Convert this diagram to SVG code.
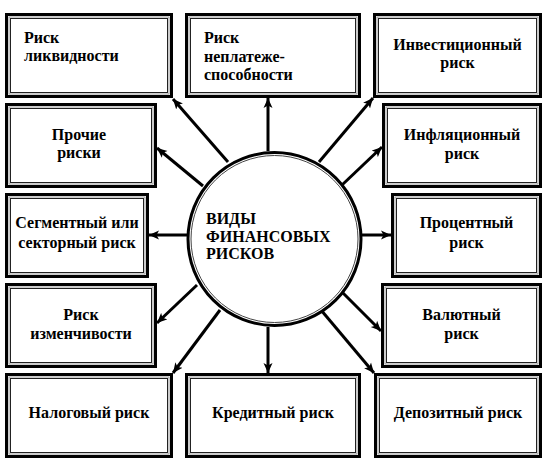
<svg xmlns="http://www.w3.org/2000/svg" width="558" height="470" viewBox="0 0 558 470">
<defs>
<style>
.ob{fill:#fff;stroke:#000;stroke-width:3}
.gb{fill:none;stroke:#999;stroke-width:1}
.ib{fill:none;stroke:#222;stroke-width:1}
.ln{stroke:#000;stroke-width:3;fill:none;marker-end:url(#ah)}
</style>
<marker id="ah" viewBox="0 0 10 10" refX="10" refY="5" markerWidth="10" markerHeight="10" markerUnits="userSpaceOnUse" orient="auto">
<path d="M0,0.5 L10,5 L0,9.5 L2.5,5 z" fill="#000"/>
</marker>
</defs>
<rect width="558" height="470" fill="#fff"/>

<g id="connectors">
<line class="ln" x1="228" y1="162" x2="173" y2="99"/>
<line class="ln" x1="203" y1="186" x2="157" y2="148"/>
<line class="ln" x1="187" y1="235" x2="149" y2="235"/>
<line class="ln" x1="197" y1="285" x2="157" y2="323"/>
<line class="ln" x1="220" y1="310" x2="173" y2="373"/>
<line class="ln" x1="268" y1="327" x2="268" y2="373"/>
<line class="ln" x1="321" y1="310" x2="374" y2="373"/>
<line class="ln" x1="342" y1="292" x2="381" y2="331"/>
<line class="ln" x1="362" y1="235" x2="391" y2="235"/>
<line class="ln" x1="342" y1="185" x2="382" y2="147"/>
<line class="ln" x1="319" y1="162" x2="373" y2="98"/>
<line class="ln" x1="268" y1="151" x2="268" y2="98"/>
</g>

<g id="center">
<circle cx="274.5" cy="239" r="86.5" fill="#fff" stroke="#000" stroke-width="3"/>
<circle cx="274.5" cy="239" r="83.5" fill="none" stroke="#444" stroke-width="1"/>
<text x="206" y="224" font-family="Liberation Serif" font-weight="bold" font-size="16">ВИДЫ</text>
<text x="206" y="242" font-family="Liberation Serif" font-weight="bold" font-size="16">ФИНАНСОВЫХ</text>
<text x="206" y="259" font-family="Liberation Serif" font-weight="bold" font-size="16">РИСКОВ</text>
</g>

<g id="n1">
<rect class="ob" x="6.5" y="14.5" width="165" height="82"/>
<rect class="gb" x="9" y="17" width="160" height="77"/>
<rect class="ib" x="10.5" y="18.5" width="157" height="74"/>
<text x="24" y="43" font-family="Liberation Serif" font-weight="bold" font-size="16">Риск</text>
<text x="24" y="61" font-family="Liberation Serif" font-weight="bold" font-size="16">ликвидности</text>
</g>

<g id="n2">
<rect class="ob" x="186.5" y="14.5" width="173" height="82"/>
<rect class="gb" x="189" y="17" width="168" height="77"/>
<rect class="ib" x="190.5" y="18.5" width="165" height="74"/>
<text x="204" y="43" font-family="Liberation Serif" font-weight="bold" font-size="16">Риск</text>
<text x="204" y="62" font-family="Liberation Serif" font-weight="bold" font-size="16">неплатеже-</text>
<text x="204" y="80" font-family="Liberation Serif" font-weight="bold" font-size="16">способности</text>
</g>

<g id="n3">
<rect class="ob" x="374.5" y="14.5" width="166" height="82"/>
<rect class="gb" x="377" y="17" width="161" height="77"/>
<rect class="ib" x="378.5" y="18.5" width="158" height="74"/>
<text text-anchor="middle" x="457.5" y="50" font-family="Liberation Serif" font-weight="bold" font-size="16">Инвестиционный</text>
<text text-anchor="middle" x="457.5" y="68" font-family="Liberation Serif" font-weight="bold" font-size="16">риск</text>
</g>

<g id="n4">
<rect class="ob" x="6.5" y="104.5" width="149" height="82"/>
<rect class="gb" x="9" y="107" width="144" height="77"/>
<rect class="ib" x="10.5" y="108.5" width="141" height="74"/>
<text text-anchor="middle" x="79" y="140" font-family="Liberation Serif" font-weight="bold" font-size="16">Прочие</text>
<text text-anchor="middle" x="79" y="158" font-family="Liberation Serif" font-weight="bold" font-size="16">риски</text>
</g>

<g id="n5">
<rect class="ob" x="383.5" y="104.5" width="157" height="82"/>
<rect class="gb" x="386" y="107" width="152" height="77"/>
<rect class="ib" x="387.5" y="108.5" width="149" height="74"/>
<text text-anchor="middle" x="462" y="140" font-family="Liberation Serif" font-weight="bold" font-size="16">Инфляционный</text>
<text text-anchor="middle" x="462" y="159" font-family="Liberation Serif" font-weight="bold" font-size="16">риск</text>
</g>

<g id="n6">
<rect class="ob" x="6.5" y="194.5" width="141" height="82"/>
<rect class="gb" x="9" y="197" width="136" height="77"/>
<rect class="ib" x="10.5" y="198.5" width="133" height="74"/>
<text text-anchor="middle" x="77" y="228" font-family="Liberation Serif" font-weight="bold" font-size="16">Сегментный или</text>
<text text-anchor="middle" x="77" y="248" font-family="Liberation Serif" font-weight="bold" font-size="16">секторный риск</text>
</g>

<g id="n7">
<rect class="ob" x="392.5" y="194.5" width="148" height="82"/>
<rect class="gb" x="395" y="197" width="143" height="77"/>
<rect class="ib" x="396.5" y="198.5" width="140" height="74"/>
<text text-anchor="middle" x="466.5" y="228" font-family="Liberation Serif" font-weight="bold" font-size="16">Процентный</text>
<text text-anchor="middle" x="466.5" y="248" font-family="Liberation Serif" font-weight="bold" font-size="16">риск</text>
</g>

<g id="n8">
<rect class="ob" x="6.5" y="284.5" width="149" height="82"/>
<rect class="gb" x="9" y="287" width="144" height="77"/>
<rect class="ib" x="10.5" y="288.5" width="141" height="74"/>
<text text-anchor="middle" x="81" y="320" font-family="Liberation Serif" font-weight="bold" font-size="16">Риск</text>
<text text-anchor="middle" x="81" y="339" font-family="Liberation Serif" font-weight="bold" font-size="16">изменчивости</text>
</g>

<g id="n9">
<rect class="ob" x="382.5" y="284.5" width="158" height="82"/>
<rect class="gb" x="385" y="287" width="153" height="77"/>
<rect class="ib" x="386.5" y="288.5" width="150" height="74"/>
<text text-anchor="middle" x="461.5" y="320" font-family="Liberation Serif" font-weight="bold" font-size="16">Валютный</text>
<text text-anchor="middle" x="461.5" y="339" font-family="Liberation Serif" font-weight="bold" font-size="16">риск</text>
</g>

<g id="n10">
<rect class="ob" x="6.5" y="374.5" width="165" height="82"/>
<rect class="gb" x="9" y="377" width="160" height="77"/>
<rect class="ib" x="10.5" y="378.5" width="157" height="74"/>
<text text-anchor="middle" x="89" y="418" font-family="Liberation Serif" font-weight="bold" font-size="16">Налоговый риск</text>
</g>

<g id="n11">
<rect class="ob" x="186.5" y="374.5" width="173" height="82"/>
<rect class="gb" x="189" y="377" width="168" height="77"/>
<rect class="ib" x="190.5" y="378.5" width="165" height="74"/>
<text text-anchor="middle" x="273" y="418" font-family="Liberation Serif" font-weight="bold" font-size="16">Кредитный риск</text>
</g>

<g id="n12">
<rect class="ob" x="375.5" y="374.5" width="165" height="82"/>
<rect class="gb" x="378" y="377" width="160" height="77"/>
<rect class="ib" x="379.5" y="378.5" width="157" height="74"/>
<text text-anchor="middle" x="458" y="418" font-family="Liberation Serif" font-weight="bold" font-size="16">Депозитный риск</text>
</g>
</svg>
